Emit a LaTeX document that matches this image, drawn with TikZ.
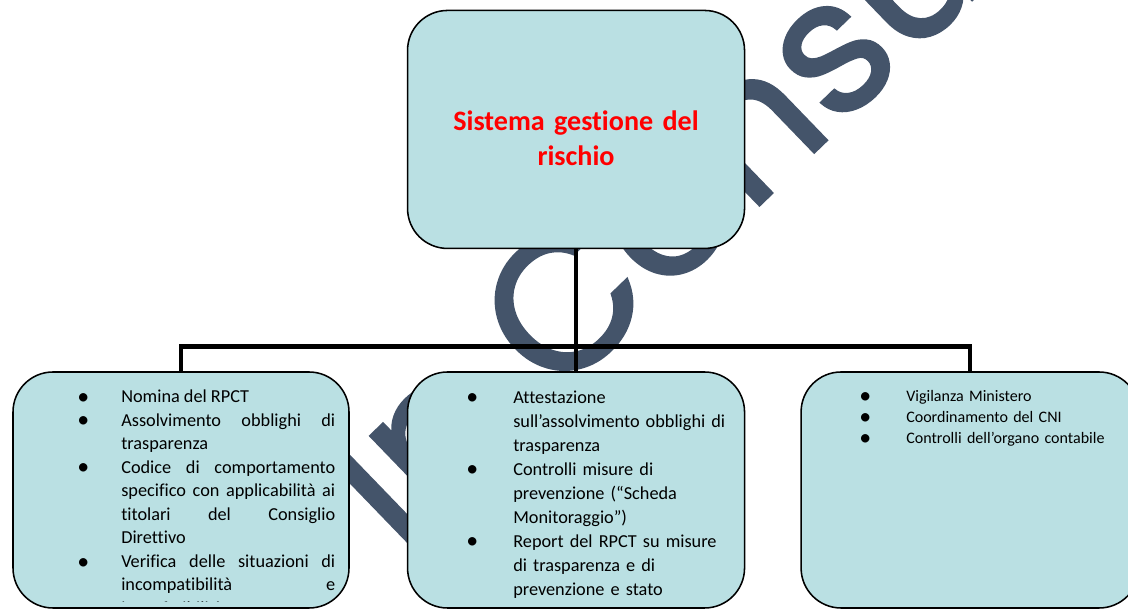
\documentclass[tikz,border=0pt]{standalone}
\usepackage{fontspec}
\setmainfont{Carlito}[Ligatures={NoCommon,NoContextual}]
\newfontfamily\markfont{Poppins}[FakeBold=1.5]
\usepackage{xcolor}
\usepackage{tikz}
\usetikzlibrary{positioning}
\definecolor{boxaqua}{HTML}{BAE0E3}
\definecolor{titlered}{HTML}{FF0000}
\definecolor{markslate}{HTML}{44546A}

\newenvironment{boxlist}[1]{%
  \begin{list}{\raisebox{-1.2pt}{\fontsize{17}{17}\selectfont\textbullet}}{%
    \setlength{\leftmargin}{#1}\setlength{\labelwidth}{#1}%
    \setlength{\labelsep}{0pt}\setlength{\itemindent}{0pt}%
    \setlength{\itemsep}{0pt}\setlength{\parsep}{0pt}%
    \setlength{\topsep}{0pt}\setlength{\partopsep}{0pt}%
    \renewcommand{\makelabel}[1]{##1\hfil}}}%
  {\end{list}}

\begin{document}
\begin{tikzpicture}[
  riskbox/.style={
    rectangle,
    rounded corners=1cm,
    draw=black,
    line width=1.1pt,
    fill=boxaqua,
    minimum width=8.4cm,
    minimum height=5.9cm,
    inner sep=0pt
  },
  itemtext/.style={
    anchor=base west,
    inner sep=0pt,
    text width=6.45cm,
    font=\fontsize{13}{16.75}\selectfont
  },
  titletext/.style={
    inner sep=0pt,
    text width=7cm,
    align=center,
    text=titlered,
    font=\bfseries\fontsize{20}{24.9}\selectfont
  },
  link/.style={line width=3.4pt, draw=black}
]
\useasboundingbox (0,0) rectangle (28.2,15.25);

% watermark, behind everything
\node[anchor=base west, rotate=44, text=markslate, inner sep=0pt,
  font=\markfont\fontsize{135}{135}\selectfont] (mark) at (9.965,1.4125) {In Consult};

\node[riskbox] (lbox) at (4.525,3.0) {};
\node[riskbox, minimum width=8.425cm, right=1.425cm of lbox] (mbox) {};
\node[riskbox, minimum width=8.45cm, right=1.375cm of mbox] (rbox) {};
\node[riskbox, minimum width=8.425cm, minimum height=5.95cm, above=3.05cm of mbox] (sys) {};
\node[titletext] (systitle) at ([yshift=-0.225cm]sys.center) {Sistema gestione del\\rischio};

\draw[link] (sys.south) -- (mbox.north);
\draw[link] (lbox.north) -- ++(0,0.625) -| (rbox.north);

\begin{scope}
  \clip (0,0.2) rectangle (28.2,15.25);
  \node[itemtext, align=justify] (ltext) at (1.925,5.775) {%
    \begin{boxlist}{1.1cm}
      \item Nomina del RPCT
      \item Assolvimento obblighi di\linebreak trasparenza
      \item Codice di comportamento\linebreak specifico con applicabilità ai\linebreak
        titolari del Consiglio\linebreak Direttivo
      \item Verifica delle situazioni di\linebreak incompatibilità e\linebreak inconferibilità
    \end{boxlist}};
\end{scope}

\node[itemtext, text width=7.075cm, align=left,
  font=\fontsize{13}{17.1}\selectfont] (mtext) at (11.65,5.775) {%
  \begin{boxlist}{1.175cm}
    \item Attestazione\\ sull’assolvimento obblighi di\\ trasparenza
    \item Controlli misure di\\ prevenzione (“Scheda\\ Monitoraggio”)
    \item Report del RPCT su misure\\ di trasparenza e di\\ prevenzione e stato
  \end{boxlist}};

\node[itemtext, text width=7cm, align=left,
  font=\fontsize{11.4}{14.9}\selectfont] (rtext) at (21.475,5.725) {%
  \begin{boxlist}{1.175cm}
    \item Vigilanza Ministero
    \item Coordinamento del CNI
    \item Controlli dell’organo contabile
  \end{boxlist}};

\end{tikzpicture}
\end{document}
